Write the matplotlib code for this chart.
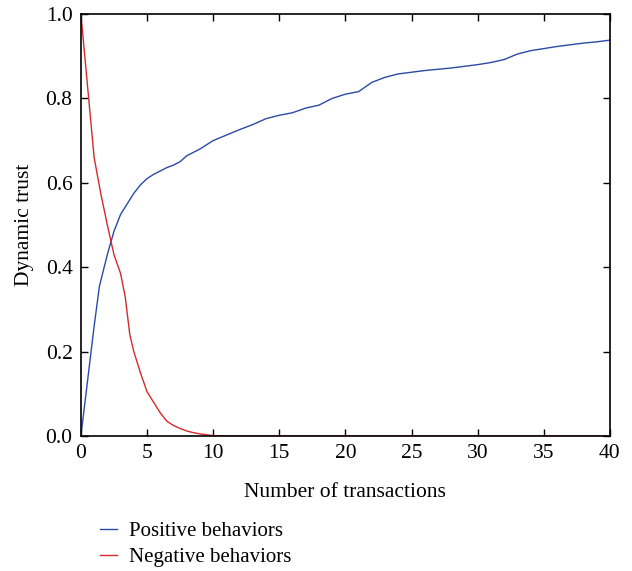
import numpy as np
import matplotlib.pyplot as plt

# values
pos_x = [0, 0.5, 1, 1.4, 2, 2.5, 3, 3.5, 4, 4.5, 5, 5.5, 6, 6.5, 7, 7.5, 8, 9, 10, 11, 12, 13, 14, 15, 16,
         17, 18, 19, 20, 21, 22, 23, 24, 25, 26, 27, 28, 29, 30, 31, 32, 33, 34, 35, 36, 37, 38, 39, 40]
pos_y = [0.0, 0.13, 0.26, 0.355, 0.43, 0.485, 0.525, 0.55, 0.575, 0.595, 0.61, 0.62, 0.628, 0.636, 0.642,
         0.65, 0.664, 0.68, 0.70, 0.713, 0.726, 0.738, 0.752, 0.76, 0.766, 0.777, 0.784, 0.80, 0.81,
         0.816, 0.838, 0.85, 0.858, 0.862, 0.866, 0.869, 0.872, 0.876, 0.88, 0.885, 0.892, 0.905,
         0.913, 0.918, 0.923, 0.927, 0.931, 0.934, 0.938]

neg_x = [0, 0.5, 1, 1.5, 2, 2.5, 3, 3.35, 3.7, 4, 4.5, 5, 5.5, 6, 6.5, 7, 7.5, 8, 8.5, 9, 9.5, 10, 11, 15, 20, 25, 30, 35, 40]
neg_y = [1.0, 0.83, 0.66, 0.575, 0.50, 0.43, 0.385, 0.33, 0.24, 0.2, 0.15, 0.105, 0.08, 0.055, 0.035,
         0.025, 0.018, 0.012, 0.008, 0.005, 0.003, 0.001, 0.0, 0.0, 0.0, 0.0, 0.0, 0.0, 0.0]

labels = ['Positive behaviors', 'Negative behaviors']

plt.rcParams['font.family'] = ['Liberation Serif', 'DejaVu Serif']
plt.rcParams['font.size'] = 15

fig = plt.figure(figsize=(6.32, 5.71), dpi=100)
ax = fig.add_axes([0.128, 0.2364, 0.837, 0.7391])

ax.plot(pos_x, pos_y, color='#2a4aa6', lw=1.0, label=labels[0])
ax.plot(neg_x, neg_y, color='#d42a2a', lw=1.0, label=labels[1])

ax.set_xlim(0, 40)
ax.set_ylim(0, 1.0)
ax.set_xticks(np.arange(0, 41, 5))
ax.set_yticks(np.arange(0, 1.01, 0.2))
ax.set_yticklabels(['%.1f' % v for v in np.arange(0, 1.01, 0.2)])
ax.tick_params(direction='in', top=True, right=True, length=5, width=1.0, labelsize=15.5, pad=6)
for s in ax.spines.values():
    s.set_linewidth(1.2)

ax.set_xlabel('Number of transactions', fontsize=15.5, labelpad=14)
ax.set_ylabel('Dynamic trust', fontsize=15.5, labelpad=8)

ax.legend(loc='upper left', bbox_to_anchor=(0.017, -0.178), frameon=False, fontsize=15,
          handlelength=0.8, handletextpad=0.6, labelspacing=0.3, borderpad=0)

fig.savefig('out.png', dpi=100)
